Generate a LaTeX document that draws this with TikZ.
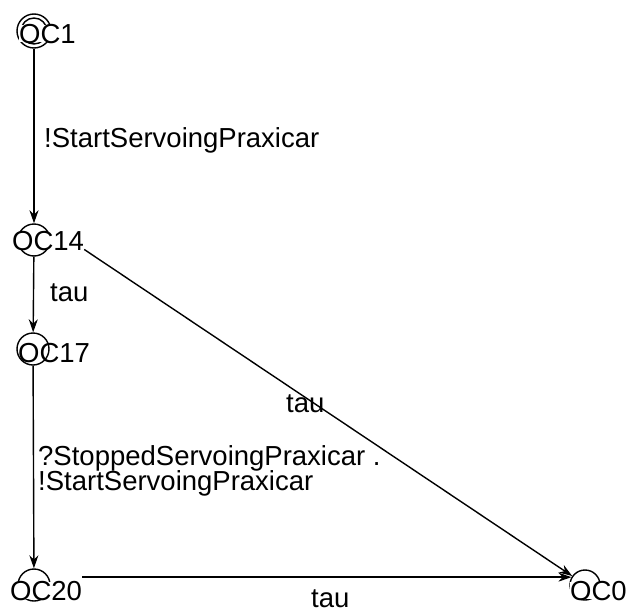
\documentclass[tikz,border=0pt]{standalone}
\usepackage{fontspec}
\setmainfont{Liberation Sans}
\usetikzlibrary{arrows.meta}
\begin{document}
\begin{tikzpicture}[x=1pt,y=-1pt,
  lbl/.style={font=\fontsize{27.5}{25}\selectfont, inner sep=0pt, anchor=base west},
  stl/.style={lbl, fill=white, inner ysep=-1pt},
  st/.style={circle, draw, line width=1.4pt, minimum size=32pt, inner sep=0pt},
  arr/.style={-{Stealth[length=13pt,width=9pt]}, line width=1.4pt}]
\useasboundingbox (0,0) rectangle (626,613);
% states
\node[st, minimum size=34pt] (c1) at (34,31) {};
\node[st, minimum size=26pt] (c1i) at (34,31) {};
\node[stl] (t1) at (19,43) {OC1};
\node[st] (c14) at (34,240) {};
\node[stl] (t14) at (12,250) {OC14};
\node[st] (c17) at (33,349) {};
\node[lbl] (t17) at (18,362) {OC17};
\node[st] (c20) at (34,585) {};
\node[stl] (t20) at (10,600) {OC20};
\node[st, minimum size=30pt] (c0) at (585,585) {};
\node[stl] (t0) at (570,600) {OC0};
% edges
\draw[arr] (c1) -- (c14);
\draw[arr] (c14) -- (c17);
\draw[arr] (c17) -- (c20);
\draw[arr] (t20.east |- c0.150) -- (c0.150);
\draw[arr] (t14.south east) -- (c0.145);
% labels
\node[lbl] (l1) at (44,147) {!StartServoingPraxicar};
\node[lbl] (l2) at (50,301) {tau};
\node[lbl] (l3) at (286,412) {tau};
\node[lbl] (l4a) at (38,465) {?StoppedServoingPraxicar .};
\node[lbl] (l4b) at (38,490) {!StartServoingPraxicar};
\node[lbl] (l5) at (311,607) {tau};
\end{tikzpicture}
\end{document}
